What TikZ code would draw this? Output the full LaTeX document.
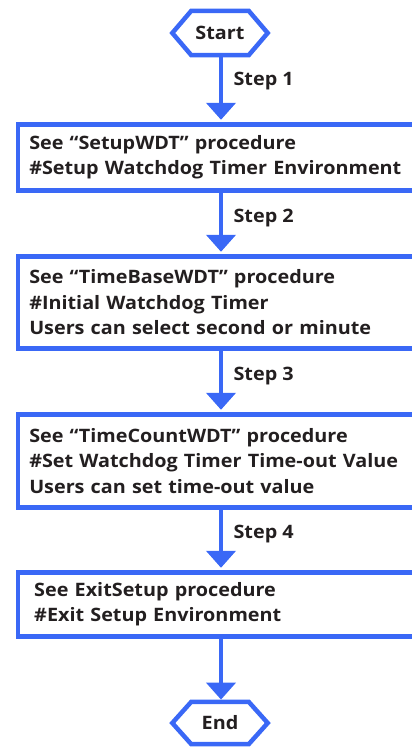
\documentclass[tikz,border=0pt]{standalone}
\usepackage{fontspec}
\setmainfont{Open Sans}[FakeStretch=1.07]
\usetikzlibrary{arrows.meta}
\definecolor{fcblue}{RGB}{58,104,246}
\definecolor{fctext}{RGB}{35,31,32}
\tikzset{
  hexnode/.style={minimum width=95pt, minimum height=44pt, inner sep=0pt, font=\bfseries\fontsize{18.5}{21}\selectfont, text=fctext},
  hexline/.style={draw=fcblue, line width=4.5pt, line join=miter},
  procbox/.style={draw=fcblue, line width=4.5pt, anchor=north west, minimum width=401pt, inner xsep=11.5pt, inner ysep=0pt, text width=378pt, align=left, font=\bfseries\fontsize{18.5}{25.5}\selectfont, text=fctext},
  flow/.style={draw=fcblue, line width=4.5pt, -{Triangle[length=17pt,width=29pt]}, shorten >=2.2pt},
  steplabel/.style={anchor=west, xshift=7pt, font=\bfseries\fontsize{18.5}{21}\selectfont, text=fctext}
}
\begin{document}
\begin{tikzpicture}[x=1pt,y=-1pt]
\useasboundingbox (0,0) rectangle (412,747);
\node[hexnode] (start) at (220,33) {Start};
\draw[hexline] (start.west) -- ([xshift=19pt]start.north west) -- ([xshift=-19pt]start.north east) -- (start.east) -- ([xshift=-19pt]start.south east) -- ([xshift=19pt]start.south west) -- cycle;
\node[procbox, minimum height=66pt] (b1) at (15.5,122) {See “SetupWDT” procedure\\\#Setup Watchdog Timer Environment};
\node[procbox, minimum height=92pt] (b2) at (15.5,254) {See “TimeBaseWDT” procedure\\\#Initial Watchdog Timer\\Users can select second or minute};
\node[procbox, minimum height=93pt] (b3) at (15.5,412) {See “TimeCountWDT” procedure\\\#Set Watchdog Timer Time-out Value\\Users can set time-out value};
\node[procbox, minimum height=64pt, inner xsep=16.5pt, text width=368pt] (b4) at (15.5,570) {See ExitSetup procedure\\\#Exit Setup Environment};
\node[hexnode, minimum height=42pt] (end) at (220,723) {End};
\draw[hexline] (end.west) -- ([xshift=19pt]end.north west) -- ([xshift=-19pt]end.north east) -- (end.east) -- ([xshift=-19pt]end.south east) -- ([xshift=19pt]end.south west) -- cycle;
\coordinate (sx) at (221,0);
\draw[flow] (sx |- start.south) -- (sx |- b1.north) node[steplabel, pos=0.38] (s1) {Step 1};
\draw[flow] (sx |- b1.south) -- (sx |- b2.north) node[steplabel, pos=0.42] (s2) {Step 2};
\draw[flow] (sx |- b2.south) -- (sx |- b3.north) node[steplabel, pos=0.42] (s3) {Step 3};
\draw[flow] (sx |- b3.south) -- (sx |- b4.north) node[steplabel, pos=0.40] (s4) {Step 4};
\draw[flow] (sx |- b4.south) -- (sx |- end.north);
\end{tikzpicture}
\end{document}
